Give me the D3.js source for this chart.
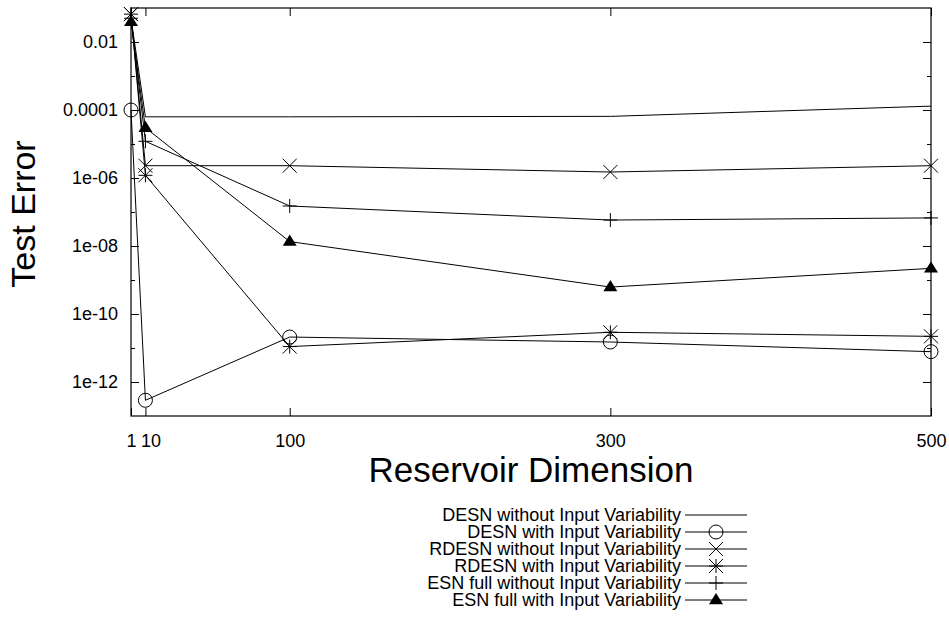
<!DOCTYPE html>
<html>
  <head>
    <meta charset="utf-8">
    <title>Test Error vs Reservoir Dimension</title>
    <script src="https://cdn.jsdelivr.net/npm/d3@7"></script>
    <style>
      body { margin: 0; background: #fff; }
      svg { display: block; font-family: "Liberation Sans", Arial, sans-serif; }
      .axis path { stroke: #000; }
      .axis line { stroke: #000; }
      .axis text { font-size: 18px; fill: #000; }
    </style>
  </head>
  <body>
    <script type="text/javascript">
    // data
    var dims = [1, 10, 100, 300, 500];
    var xTickValues = [1, 10, 100, 300, 500];
    var yMajorTicks = [1e-2, 1e-4, 1e-6, 1e-8, 1e-10, 1e-12];
    var yTickLabels = ['0.01', '0.0001', '1e-06', '1e-08', '1e-10', '1e-12'];
    var yMinorTicks = [1e-3, 1e-5, 1e-7, 1e-9, 1e-11];

    var desnNoVar   = [0.05, 6.3e-5, 6.3e-5, 6.5e-5, 1.3e-4];
    var desnVar     = [1e-4, 2.9e-13, 2.1e-11, 1.5e-11, 7.8e-12];
    var rdesnNoVar  = [0.066, 2.3e-6, 2.3e-6, 1.5e-6, 2.3e-6];
    var rdesnVar    = [0.066, 1.2e-6, 1.1e-11, 2.9e-11, 2.2e-11];
    var esnNoVar    = [0.05, 1.2e-5, 1.5e-7, 5.8e-8, 6.7e-8];
    var esnVar      = [0.039, 3e-5, 1.35e-8, 6.2e-10, 2.2e-9];

    var seriesNames = [
      'DESN without Input Variability',
      'DESN with Input Variability',
      'RDESN without Input Variability',
      'RDESN with Input Variability',
      'ESN full without Input Variability',
      'ESN full with Input Variability'
    ];
    var seriesValues = [desnNoVar, desnVar, rdesnNoVar, rdesnVar, esnNoVar, esnVar];
    var seriesMarkers = ['none', 'circle', 'cross', 'star', 'plus', 'triangle'];

    var W = 949, H = 621;
    var margin = {top: 8, right: 18, bottom: 205, left: 131};
    var width = W - margin.left - margin.right,
        height = H - margin.top - margin.bottom;

    var xScale = d3.scaleLinear().domain([1, 500]).range([0, width]);
    var yScale = d3.scaleLog().domain([1e-13, 0.1]).range([height, 0]);

    var svg = d3.select('body').append('svg')
        .attr('width', W)
        .attr('height', H)
      .append('g')
        .attr('transform', 'translate(' + margin.left + ',' + margin.top + ')');

    // frame
    svg.append('rect')
        .attr('width', width)
        .attr('height', height)
        .attr('fill', 'none')
        .attr('stroke', '#000')
        .attr('stroke-width', 1.2);

    // x axis bottom (ticks inward)
    svg.append('g')
        .attr('class', 'axis')
        .attr('transform', 'translate(0,' + height + ')')
        .call(d3.axisBottom(xScale)
            .tickValues(xTickValues)
            .tickSize(-8)
            .tickPadding(18)
            .tickFormat(d3.format('d')))
        .call(function(g) {
          g.select('.domain').remove();
          // "1" and "10" sit close together, nudge "10" right as in the original
          g.selectAll('.tick text').attr('dx', function(d) { return d === 10 ? 5 : 0; });
        });

    // x mirror ticks on top
    svg.append('g')
        .attr('class', 'axis')
        .call(d3.axisTop(xScale)
            .tickValues(xTickValues)
            .tickSize(-8)
            .tickFormat(''))
        .call(function(g) { g.select('.domain').remove(); });

    // y axis left, major
    svg.append('g')
        .attr('class', 'axis')
        .call(d3.axisLeft(yScale)
            .tickValues(yMajorTicks)
            .tickSize(-8)
            .tickPadding(13)
            .tickFormat(function(d, i) { return yTickLabels[i]; }))
        .call(function(g) { g.select('.domain').remove(); });

    // y axis left, minor
    svg.append('g')
        .attr('class', 'axis')
        .call(d3.axisLeft(yScale)
            .tickValues(yMinorTicks)
            .tickSize(-4)
            .tickFormat(''))
        .call(function(g) { g.select('.domain').remove(); });

    // y mirror ticks on right
    svg.append('g')
        .attr('class', 'axis')
        .attr('transform', 'translate(' + width + ',0)')
        .call(d3.axisRight(yScale)
            .tickValues(yMajorTicks)
            .tickSize(-8)
            .tickFormat(''))
        .call(function(g) { g.select('.domain').remove(); });
    svg.append('g')
        .attr('class', 'axis')
        .attr('transform', 'translate(' + width + ',0)')
        .call(d3.axisRight(yScale)
            .tickValues(yMinorTicks)
            .tickSize(-4)
            .tickFormat(''))
        .call(function(g) { g.select('.domain').remove(); });

    // axis labels
    svg.append('text')
        .attr('x', width / 2)
        .attr('y', height + 66)
        .attr('text-anchor', 'middle')
        .style('font-size', '35px')
        .text('Reservoir Dimension');

    svg.append('text')
        .attr('transform', 'rotate(-90)')
        .attr('x', -(214 - margin.top))
        .attr('y', 35 - margin.left)
        .attr('text-anchor', 'middle')
        .style('font-size', '34px')
        .text('Test Error');

    // point markers
    function drawMarker(g, type, cx, cy) {
      var s = 7;
      if (type === 'circle') {
        g.append('circle').attr('cx', cx).attr('cy', cy).attr('r', s)
          .attr('fill', 'none').attr('stroke', '#000');
      } else if (type === 'cross' || type === 'star' || type === 'plus') {
        var p = '';
        if (type !== 'plus') {
          p += 'M' + (cx - s) + ',' + (cy - s) + 'L' + (cx + s) + ',' + (cy + s);
          p += 'M' + (cx - s) + ',' + (cy + s) + 'L' + (cx + s) + ',' + (cy - s);
        }
        if (type !== 'cross') {
          p += 'M' + (cx - s) + ',' + cy + 'L' + (cx + s) + ',' + cy;
          p += 'M' + cx + ',' + (cy - s) + 'L' + cx + ',' + (cy + s);
        }
        g.append('path').attr('d', p).attr('stroke', '#000').attr('fill', 'none');
      } else if (type === 'triangle') {
        g.append('path')
          .attr('d', 'M' + cx + ',' + (cy - s) + 'L' + (cx + s) + ',' + (cy + s * 0.6) +
                'L' + (cx - s) + ',' + (cy + s * 0.6) + 'Z')
          .attr('fill', '#000');
      }
    }

    var line = d3.line()
        .x(function(d, i) { return xScale(dims[i]); })
        .y(function(d) { return yScale(d); });

    seriesValues.forEach(function(vals, k) {
      var g = svg.append('g').attr('class', 'series');
      g.append('path')
        .attr('d', line(vals))
        .attr('fill', 'none')
        .attr('stroke', '#000')
        .attr('stroke-width', 1);
      vals.forEach(function(v, i) {
        drawMarker(g, seriesMarkers[k], xScale(dims[i]), yScale(v));
      });
    });

    // legend
    var legend = svg.append('g')
        .attr('transform', 'translate(' + (681 - margin.left) + ',' + (521 - margin.top) + ')');
    seriesNames.forEach(function(name, k) {
      var row = legend.append('g').attr('transform', 'translate(0,' + (k * 17) + ')');
      row.append('text')
        .attr('x', 0)
        .attr('y', 0)
        .attr('text-anchor', 'end')
        .style('font-size', '18px')
        .text(name);
      row.append('line')
        .attr('x1', 4).attr('x2', 66)
        .attr('y1', -6).attr('y2', -6)
        .attr('stroke', '#000');
      drawMarker(row, seriesMarkers[k], 35, -6);
    });
    </script>
  </body>
</html>
